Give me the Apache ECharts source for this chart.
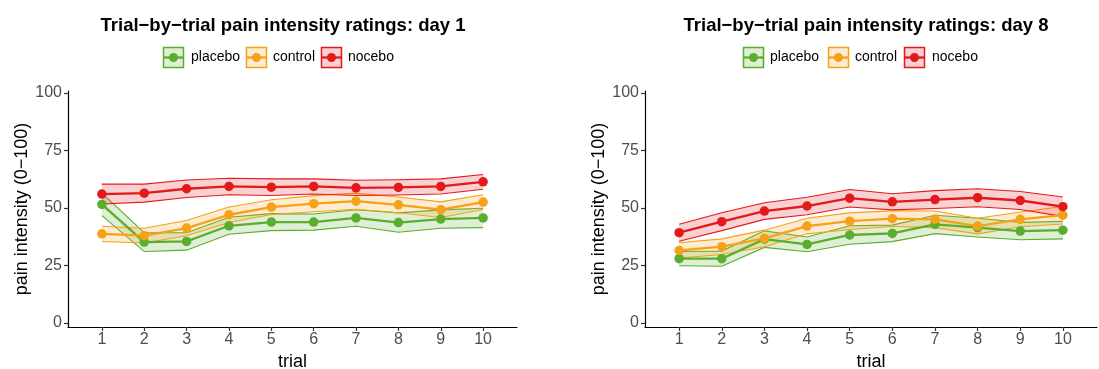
<!DOCTYPE html>
<html>
<head>
<meta charset="utf-8">
<script src="https://cdn.jsdelivr.net/npm/echarts@6/dist/echarts.min.js"></script>
<style>
  html, body { margin: 0; padding: 0; background: #fff; }
  #main { width: 1099px; height: 369px; }
</style>
</head>
<body>
<div id="main"></div>
<script>
// 数据：每一试次的均值和标准误
var trials = [1, 2, 3, 4, 5, 6, 7, 8, 9, 10];
var yTicks = [0, 25, 50, 75, 100];
var groupNames = ['placebo', 'control', 'nocebo'];
var panelTitles = ['Trial\u2212by\u2212trial pain intensity ratings: day 1',
                   'Trial\u2212by\u2212trial pain intensity ratings: day 8'];

// day 1
var placeboDay1 = [51.6, 35.2, 35.5, 42.3, 43.9, 43.9, 45.7, 43.7, 45.2, 45.7];
var placeboDay1Se = [4.9, 4.1, 3.8, 3.7, 3.7, 3.5, 3.6, 4.2, 4.0, 4.2];
var controlDay1 = [38.8, 38.0, 41.3, 47.1, 50.4, 51.9, 53.0, 51.4, 49.3, 52.6];
var controlDay1Se = [3.3, 3.2, 3.3, 3.4, 3.2, 3.5, 3.5, 3.4, 3.4, 3.2];
var noceboDay1 = [56.1, 56.5, 58.4, 59.4, 59.1, 59.4, 58.8, 59.0, 59.4, 61.4];
var noceboDay1Se = [4.3, 3.9, 3.8, 3.6, 3.6, 3.3, 3.3, 3.3, 3.3, 3.2];

// day 8
var placeboDay8 = [28.0, 28.0, 36.5, 34.2, 38.3, 39.0, 42.9, 41.5, 40.0, 40.4];
var placeboDay8Se = [3.1, 3.3, 3.6, 3.2, 4.0, 3.6, 4.0, 4.1, 3.8, 3.8];
var controlDay8 = [31.6, 33.2, 36.8, 42.2, 44.3, 45.4, 45.1, 42.2, 45.1, 46.9];
var controlDay8Se = [3.3, 3.4, 3.6, 3.4, 3.6, 3.4, 3.6, 3.4, 3.2, 3.8];
var noceboDay8 = [39.3, 44.1, 48.7, 50.9, 54.3, 52.7, 53.7, 54.5, 53.3, 50.6];
var noceboDay8Se = [3.7, 3.9, 3.6, 3.8, 3.8, 3.5, 3.9, 3.9, 3.9, 4.2];

var colors = ['#5aae2e', '#f6a11a', '#e31a1c'];
var fills = ['rgba(90,174,46,0.2)', 'rgba(246,161,26,0.2)', 'rgba(227,26,28,0.2)'];

var panels = [
  { means: [placeboDay1, controlDay1, noceboDay1], se: [placeboDay1Se, controlDay1Se, noceboDay1Se] },
  { means: [placeboDay8, controlDay8, noceboDay8], se: [placeboDay8Se, controlDay8Se, noceboDay8Se] }
];

var myChart = echarts.init(document.getElementById('main'));
var fontFam = '"Liberation Sans", Arial, sans-serif';

// 网格位置
var grids = [
  { left: 68, top: 91, width: 449, height: 236, outerBoundsMode: 'none', containLabel: false },
  { left: 645, top: 91, width: 452, height: 236, outerBoundsMode: 'none', containLabel: false }
];
var titleCenters = [278, 861];
var legendX = [[163, 246, 321], [743, 828, 904]];
var legendTextX = [[191, 273, 348], [770, 855, 932]];

var xAxes = [], yAxes = [], series = [], titles = [], graphics = [];

for (var p = 0; p < 2; p++) {
  xAxes.push({
    gridIndex: p, type: 'value', min: 0.2, max: 10.8,
    name: 'trial', nameLocation: 'middle', nameGap: 25,
    nameTextStyle: { color: '#000', fontSize: 18, fontFamily: fontFam },
    axisLine: { show: true, onZero: false, lineStyle: { color: '#000', width: 1.2 } },
    axisTick: { show: true, length: 4, customValues: trials, lineStyle: { color: '#333', width: 1.2 } },
    axisLabel: { customValues: trials, margin: 5, color: '#4d4d4d', fontSize: 16, fontFamily: fontFam },
    splitLine: { show: false }
  });
  yAxes.push({
    gridIndex: p, type: 'value', min: -1.7, max: 100.9,
    name: 'pain intensity (0\u2212100)', nameLocation: 'middle', nameGap: 34,
    nameTextStyle: { color: '#000', fontSize: 18, fontFamily: fontFam },
    axisLine: { show: true, onZero: false, lineStyle: { color: '#000', width: 1.2 } },
    axisTick: { show: true, length: 4, customValues: yTicks, lineStyle: { color: '#333', width: 1.2 } },
    axisLabel: { customValues: yTicks, margin: 6, color: '#4d4d4d', fontSize: 16, fontFamily: fontFam },
    splitLine: { show: false }
  });
  titles.push({
    text: panelTitles[p], left: titleCenters[p], top: 11, textAlign: 'center',
    textStyle: { fontSize: 18.5, fontWeight: 'bold', color: '#000', fontFamily: fontFam }
  });

  // 误差带（自定义系列）
  for (var g = 0; g < 3; g++) {
    (function (p, g) {
      var m = panels[p].means[g], s = panels[p].se[g];
      series.push({
        type: 'custom', xAxisIndex: p, yAxisIndex: p, z: 1, silent: true,
        data: [[trials[0], m[0]]],
        clip: false,
        renderItem: function (params, api) {
          var upper = [], lower = [];
          for (var i = 0; i < trials.length; i++) {
            upper.push(api.coord([trials[i], m[i] + s[i]]));
            lower.push(api.coord([trials[i], m[i] - s[i]]));
          }
          var poly = upper.concat(lower.slice().reverse());
          return {
            type: 'group',
            children: [
              { type: 'polygon', shape: { points: poly }, style: { fill: fills[g], stroke: null } },
              { type: 'polyline', shape: { points: upper }, style: { fill: null, stroke: colors[g], lineWidth: 1.1 } },
              { type: 'polyline', shape: { points: lower }, style: { fill: null, stroke: colors[g], lineWidth: 1.1 } }
            ]
          };
        }
      });
    })(p, g);
  }
  // 均值折线与点
  for (var g2 = 0; g2 < 3; g2++) {
    var pts = [];
    for (var i = 0; i < trials.length; i++) pts.push([trials[i], panels[p].means[g2][i]]);
    series.push({
      type: 'line', name: groupNames[g2], xAxisIndex: p, yAxisIndex: p, z: 2 + g2,
      data: pts, symbol: 'circle', symbolSize: 9.5, showSymbol: true,
      lineStyle: { color: colors[g2], width: 2.3 },
      itemStyle: { color: colors[g2], borderWidth: 0 },
      emphasis: { disabled: true }
    });
  }

  // 图例
  for (var k = 0; k < 3; k++) {
    var lx = legendX[p][k];
    graphics.push({ type: 'rect', shape: { x: lx + 0.5, y: 47.5, width: 20, height: 20 },
      style: { fill: fills[k], stroke: colors[k], lineWidth: 1.5 } });
    graphics.push({ type: 'line', shape: { x1: lx + 0.5, y1: 57.5, x2: lx + 20.5, y2: 57.5 },
      style: { stroke: colors[k], lineWidth: 2.3 } });
    graphics.push({ type: 'circle', shape: { cx: lx + 10.5, cy: 57.5, r: 4.5 },
      style: { fill: colors[k] } });
    graphics.push({ type: 'text', x: legendTextX[p][k], y: 57.5,
      style: { text: groupNames[k], fill: '#000', font: '14px ' + fontFam, verticalAlign: 'middle' } });
  }
}

myChart.setOption({
  animation: false,
  title: titles,
  grid: grids,
  xAxis: xAxes,
  yAxis: yAxes,
  series: series,
  graphic: graphics
});
</script>
</body>
</html>
